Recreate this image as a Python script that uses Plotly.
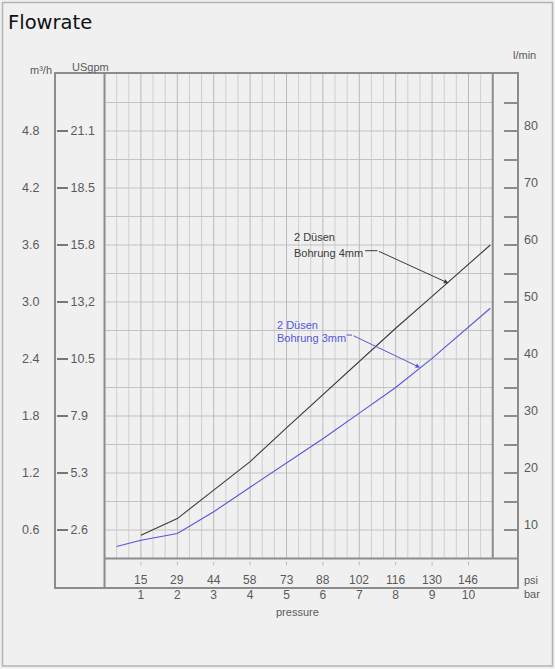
import numpy as np
import plotly.graph_objects as go

# ---------------- data ----------------
# pressure in bar, flow in l/min
bar_4mm = [1, 2, 3, 4, 5, 6, 7, 8, 9, 10, 10.6]
flow_4mm = [9.1, 12.0, 17.0, 22.0, 27.9, 33.7, 39.6, 45.4, 51.0, 56.6, 60.0]

bar_3mm = [0.33, 1, 2, 3, 4, 5, 6, 7, 8, 9, 10, 10.6]
flow_3mm = [7.1, 8.2, 9.4, 13.2, 17.5, 21.8, 26.0, 30.5, 35.0, 40.1, 45.6, 48.9]

# axis ticks
bar_ticks = [1, 2, 3, 4, 5, 6, 7, 8, 9, 10]
bar_labels = ["1", "2", "3", "4", "5", "6", "7", "8", "9", "10"]
psi_labels = ["15", "29", "44", "58", "73", "88", "102", "116", "130", "146"]

lmin_ticks = [10, 20, 30, 40, 50, 60, 70, 80]
lmin_labels = ["10", "20", "30", "40", "50", "60", "70", "80"]
m3h_labels = ["0.6", "1.2", "1.8", "2.4", "3.0", "3.6", "4.2", "4.8"]
usgpm_labels = ["2.6", "5.3", "7.9", "10.5", "13,2", "15.8", "18.5", "21.1"]

# chart frame (bar / l/min)
X_MIN, X_MAX = -4 / 3, 34 / 3
GRID_X_MAX = 32 / 3
Y_MIN, Y_MAX = 0, 90
GRID_Y_MIN = 5

FRAME = "#8c8c8c"
GRID = "#cfcfcf"
GRID_H = "#c2c2c2"
GRID_MAJOR = "#b9b9b9"
LABEL = "#5a5a5a"
BLUE = "#5656dc"
BLACK = "#3a3a3a"
TICKFONT = dict(family="Liberation Sans, Arial", size=12.5, color=LABEL)

fig = go.Figure()

# ---------------- grid ----------------
gx_minor, gy_minor = [], []
for k in range(1, 32):
    if k % 3:
        gx_minor += [k / 3, k / 3, None]
        gy_minor += [GRID_Y_MIN, Y_MAX, None]
fig.add_trace(go.Scatter(x=gx_minor, y=gy_minor, mode="lines",
                         line=dict(color=GRID, width=1),
                         hoverinfo="skip", showlegend=False))

gx_h, gy_h = [], []
for v in np.arange(10, 90, 5):
    gx_h += [0, GRID_X_MAX, None]
    gy_h += [v, v, None]
fig.add_trace(go.Scatter(x=gx_h, y=gy_h, mode="lines",
                         line=dict(color=GRID_H, width=1),
                         hoverinfo="skip", showlegend=False))

gx_major, gy_major = [], []
for b in bar_ticks:
    gx_major += [b, b, None, b, b, None]
    gy_major += [GRID_Y_MIN, Y_MAX, None, 4.4, 3.8, None]
fig.add_trace(go.Scatter(x=gx_major, y=gy_major, mode="lines",
                         line=dict(color=GRID_MAJOR, width=1),
                         hoverinfo="skip", showlegend=False))

# structural lines of the chart frame
struct_x = [0, 0, None, GRID_X_MAX, GRID_X_MAX, None, 0, X_MAX]
struct_y = [Y_MIN, Y_MAX, None, GRID_Y_MIN, Y_MAX, None, GRID_Y_MIN, GRID_Y_MIN]
fig.add_trace(go.Scatter(x=struct_x, y=struct_y, mode="lines",
                         line=dict(color=FRAME, width=2),
                         hoverinfo="skip", showlegend=False))

# ---------------- curves ----------------
fig.add_trace(go.Scatter(x=bar_4mm, y=flow_4mm, mode="lines",
                         line=dict(color=BLACK, width=1.1),
                         name="2 Düsen Bohrung 4mm", showlegend=False))
fig.add_trace(go.Scatter(x=bar_3mm, y=flow_3mm, mode="lines",
                         line=dict(color=BLUE, width=1.1),
                         name="2 Düsen Bohrung 3mm", showlegend=False))

# leader dashes next to labels
fig.add_trace(go.Scatter(x=[7.16, 7.50], y=[59.0, 59.0], mode="lines",
                         line=dict(color=BLACK, width=1), hoverinfo="skip",
                         showlegend=False))
fig.add_trace(go.Scatter(x=[6.65, 6.80], y=[44.2, 44.2], mode="lines",
                         line=dict(color=BLUE, width=1), hoverinfo="skip",
                         showlegend=False))

# dummy traces so the extra axes exist
fig.add_trace(go.Scatter(x=[None], y=[None], yaxis="y2", showlegend=False,
                         hoverinfo="skip"))
fig.add_trace(go.Scatter(x=[None], y=[None], yaxis="y3", showlegend=False,
                         hoverinfo="skip"))

# ---------------- annotations ----------------
ann = []
TXT = dict(family="Liberation Sans, Arial", size=11)
ann += [
    dict(x=5.14, y=61.4, text="2 Düsen", xanchor="left", yanchor="middle",
         showarrow=False, font=dict(TXT, color=BLACK)),
    dict(x=5.14, y=58.6, text="Bohrung 4mm", xanchor="left", yanchor="middle",
         showarrow=False, font=dict(TXT, color=BLACK)),
    dict(x=4.68, y=46.0, text="2 Düsen", xanchor="left", yanchor="middle",
         showarrow=False, font=dict(TXT, color=BLUE)),
    dict(x=4.68, y=43.7, text="Bohrung 3mm", xanchor="left", yanchor="middle",
         showarrow=False, font=dict(TXT, color=BLUE)),
    dict(x=9.45, y=53.3, ax=7.50, ay=59.0, axref="x", ayref="y", text="",
         showarrow=True, arrowhead=2, arrowsize=0.9, arrowwidth=1,
         arrowcolor=BLACK),
    dict(x=8.67, y=38.5, ax=6.80, ay=44.2, axref="x", ayref="y", text="",
         showarrow=True, arrowhead=2, arrowsize=0.9, arrowwidth=1,
         arrowcolor=BLUE),
]

# psi labels
for b, p in zip(bar_ticks, psi_labels):
    ann.append(dict(x=b, y=1.15, text=p, showarrow=False, xanchor="center",
                    yanchor="middle", font=dict(family="Liberation Sans, Arial",
                                                size=12, color=LABEL)))

# l/min labels on the right (slightly raised above their ticks)
for v, t in zip(lmin_ticks, lmin_labels):
    ann.append(dict(x=1.0108, xref="paper", y=v + 0.95, yref="y", text=t,
                    showarrow=False, xanchor="left", yanchor="middle",
                    font=TICKFONT))

UNITFONT = dict(family="Liberation Sans, Arial", size=11, color=LABEL)
ann += [
    dict(x=1.0108, xref="paper", y=1.15, yref="y", text="psi", showarrow=False,
         xanchor="left", yanchor="middle", font=UNITFONT),
    dict(x=1.0108, xref="paper", y=-0.0136, yref="paper", text="bar",
         showarrow=False, xanchor="left", yanchor="middle", font=UNITFONT),
    dict(x=5.29, y=-0.0487, yref="paper", text="pressure", showarrow=False,
         xanchor="center", yanchor="middle", font=UNITFONT),
    dict(x=-0.0325, xref="paper", y=1.0078, yref="paper", text="m³/h",
         showarrow=False, xanchor="center", yanchor="middle", font=UNITFONT),
    dict(x=0.0738, xref="paper", y=1.0136, yref="paper", text="USgpm",
         showarrow=False, xanchor="center", yanchor="middle", font=UNITFONT),
    dict(x=1.0152, xref="paper", y=1.037, yref="paper", text="l/min",
         showarrow=False, xanchor="center", yanchor="middle", font=UNITFONT),
]

# ---------------- layout ----------------
W, H = 555, 669
ML, MR, MT, MB = 56, 38, 74, 82
pw, ph = W - ML - MR, H - MT - MB

def px_x(p):
    return (p - ML) / pw

def px_y(p):
    return (H - MB - p) / ph

fig.update_layout(
    width=W, height=H,
    margin=dict(l=ML, r=MR, t=MT, b=MB, pad=0),
    paper_bgcolor="#f0f0f0",
    plot_bgcolor="#f0f0f0",
    title=dict(text="Flowrate", x=8 / W, xanchor="left", xref="container",
               y=1 - 22 / H, yanchor="middle", yref="container",
               font=dict(family="DejaVu Sans", size=19.5, color="#111111")),
    xaxis=dict(range=[X_MIN, X_MAX], showgrid=False, zeroline=False,
               showline=True, mirror=True, linecolor=FRAME, linewidth=2,
               tickmode="array", tickvals=bar_ticks, ticktext=bar_labels,
               ticks="", tickfont=dict(family="Liberation Sans, Arial",
                                       size=12, color=LABEL),
               ticklabelstandoff=-4, fixedrange=True),
    yaxis=dict(range=[Y_MIN, Y_MAX], showgrid=False, zeroline=False,
               showline=True, mirror=True, linecolor=FRAME, linewidth=2,
               tickmode="array", tickvals=lmin_ticks, ticktext=m3h_labels,
               ticks="", tickfont=TICKFONT, ticklabelstandoff=12,
               fixedrange=True),
    yaxis2=dict(range=[Y_MIN, Y_MAX], overlaying="y", side="right",
                showgrid=False, zeroline=False, showline=False,
                tickmode="array", tickvals=list(range(10, 90, 5)),
                ticks="inside", ticklen=13, tickwidth=2, tickcolor=FRAME,
                showticklabels=False, fixedrange=True),
    yaxis3=dict(range=[Y_MIN, Y_MAX], overlaying="y", anchor="free",
                position=0, side="right", showgrid=False, zeroline=False,
                showline=False, tickmode="array", tickvals=lmin_ticks,
                ticktext=usgpm_labels, ticks="outside", ticklen=11,
                tickwidth=1.5, tickcolor="#777777", tickfont=TICKFONT,
                fixedrange=True),
    annotations=ann,
    shapes=[dict(type="rect", xref="paper", yref="paper",
                 x0=px_x(2.5), x1=px_x(552.5), y0=px_y(666), y1=px_y(2.5),
                 line=dict(color="#b3b3b3", width=1.5), layer="below")],
    showlegend=False,
)

fig.write_html(
    "out.html",
    config={"displayModeBar": False},
    post_script="document.body.style.margin='0';"
                "document.body.style.overflow='hidden';",
)
